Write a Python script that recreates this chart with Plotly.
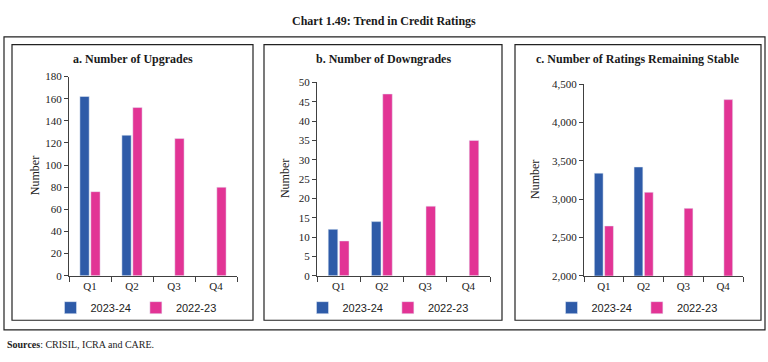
import plotly.graph_objects as go

W, H = 768, 362
quarters = ["Q1", "Q2", "Q3", "Q4"]
series_names = ["2023-24", "2022-23"]

upgrades_2324 = [162, 127, None, None]
upgrades_2223 = [76, 152, 124, 80]
downgrades_2324 = [12, 14, None, None]
downgrades_2223 = [9, 47, 18, 35]
stable_2324 = [3340, 3420, None, None]
stable_2223 = [2650, 3090, 2880, 4300]

panel_titles = ["a. Number of Upgrades", "b. Number of Downgrades",
                "c. Number of Ratings Remaining Stable"]

BLUE = "#2E5BA8"
PINK = "#E23495"
AX = "#404040"
SERIF = "Liberation Serif"
SANS = "Liberation Sans"

def px(x):
    return x / W

def py(y):
    return 1 - y / H

fig = go.Figure()

panels = [
    dict(a=upgrades_2324, b=upgrades_2223, x0=69, x1=237, y0=73, rng=[0, 180], dtick=20, fmt="",
         frame=(12, 253), ytitle_x=35, legend="legend", lx=136),
    dict(a=downgrades_2324, b=downgrades_2223, x0=317, x1=490, y0=79, rng=[0, 50], dtick=5, fmt="",
         frame=(264, 502), ytitle_x=285, legend="legend2", lx=388),
    dict(a=stable_2324, b=stable_2223, x0=584, x1=743, y0=81, rng=[2000, 4500], dtick=500, fmt=",",
         frame=(515, 761), ytitle_x=535, legend="legend3", lx=637),
]

Y_BOTTOM = 279
shapes = []
annotations = []

for i, p in enumerate(panels):
    n = "" if i == 0 else str(i + 1)
    xa = "x" + n
    ya = "y" + n
    fig.add_trace(go.Bar(x=quarters, y=p["a"], name=series_names[0], marker_color=BLUE,
                         xaxis=xa, yaxis=ya, legend=p["legend"]))
    fig.add_trace(go.Bar(x=quarters, y=p["b"], name=series_names[1], marker_color=PINK,
                         xaxis=xa, yaxis=ya, legend=p["legend"]))
    fig.layout["xaxis" + n] = dict(
        domain=[px(p["x0"]), px(p["x1"])], anchor=ya, showgrid=False,
        showline=True, linecolor=AX, linewidth=1, ticks="outside", tickson="boundaries",
        ticklen=5, tickcolor=AX, tickfont=dict(family=SERIF, size=11, color="#222"),
        fixedrange=True)
    fig.layout["yaxis" + n] = dict(
        domain=[py(Y_BOTTOM), py(p["y0"])], anchor=xa, range=p["rng"], dtick=p["dtick"],
        tickformat=p["fmt"], showgrid=False, zeroline=False, showline=True, linecolor=AX,
        linewidth=1, ticks="outside", ticklen=4, tickcolor=AX,
        tickfont=dict(family=SERIF, size=11, color="#222"), fixedrange=True)
    fig.layout[p["legend"]] = dict(
        orientation="h", x=px(p["lx"]), xanchor="center", y=py(312), yanchor="middle",
        font=dict(family=SANS, size=11, color="#222"), bgcolor="rgba(0,0,0,0)",
        itemwidth=30, traceorder="normal", tracegroupgap=0)
    f0, f1 = p["frame"]
    shapes.append(dict(type="rect", xref="paper", yref="paper", x0=px(f0), x1=px(f1),
                       y0=py(325), y1=py(40), line=dict(color="#222", width=1.2)))
    annotations.append(dict(text="<b>" + panel_titles[i] + "</b>", xref="paper", yref="paper",
                            x=px(0.5 * (f0 + f1)), y=py(55), xanchor="center", yanchor="middle",
                            showarrow=False, font=dict(family=SERIF, size=12, color="#1a1a1a")))
    annotations.append(dict(text="Number", xref="paper", yref="paper", textangle=-90,
                            x=px(p["ytitle_x"]), y=py(0.5 * (p["y0"] + Y_BOTTOM)),
                            xanchor="center", yanchor="middle", showarrow=False,
                            font=dict(family=SERIF, size=12, color="#222")))

shapes.append(dict(type="rect", xref="paper", yref="paper", x0=px(4), x1=px(765),
                   y0=py(335), y1=py(32), line=dict(color="#222", width=1.2)))
annotations.append(dict(text="<b>Chart 1.49: Trend in Credit Ratings</b>", xref="paper",
                        yref="paper", x=px(384), y=py(16), xanchor="center", yanchor="middle",
                        showarrow=False, font=dict(family=SERIF, size=12, color="#1a1a1a")))
annotations.append(dict(text="<b>Sources</b>: CRISIL, ICRA and CARE.", xref="paper",
                        yref="paper", x=px(5), y=py(350), xanchor="left", yanchor="middle",
                        showarrow=False, font=dict(family=SERIF, size=10, color="#222")))

fig.update_layout(
    width=W, height=H, margin=dict(l=0, r=0, t=0, b=0), paper_bgcolor="white",
    plot_bgcolor="white", barmode="group", bargap=0.48, bargroupgap=0.15,
    shapes=shapes, annotations=annotations, showlegend=True)

fig.write_html("out.html", config={"displayModeBar": False},
               post_script="document.body.style.margin='0';document.body.style.overflow='hidden';")
